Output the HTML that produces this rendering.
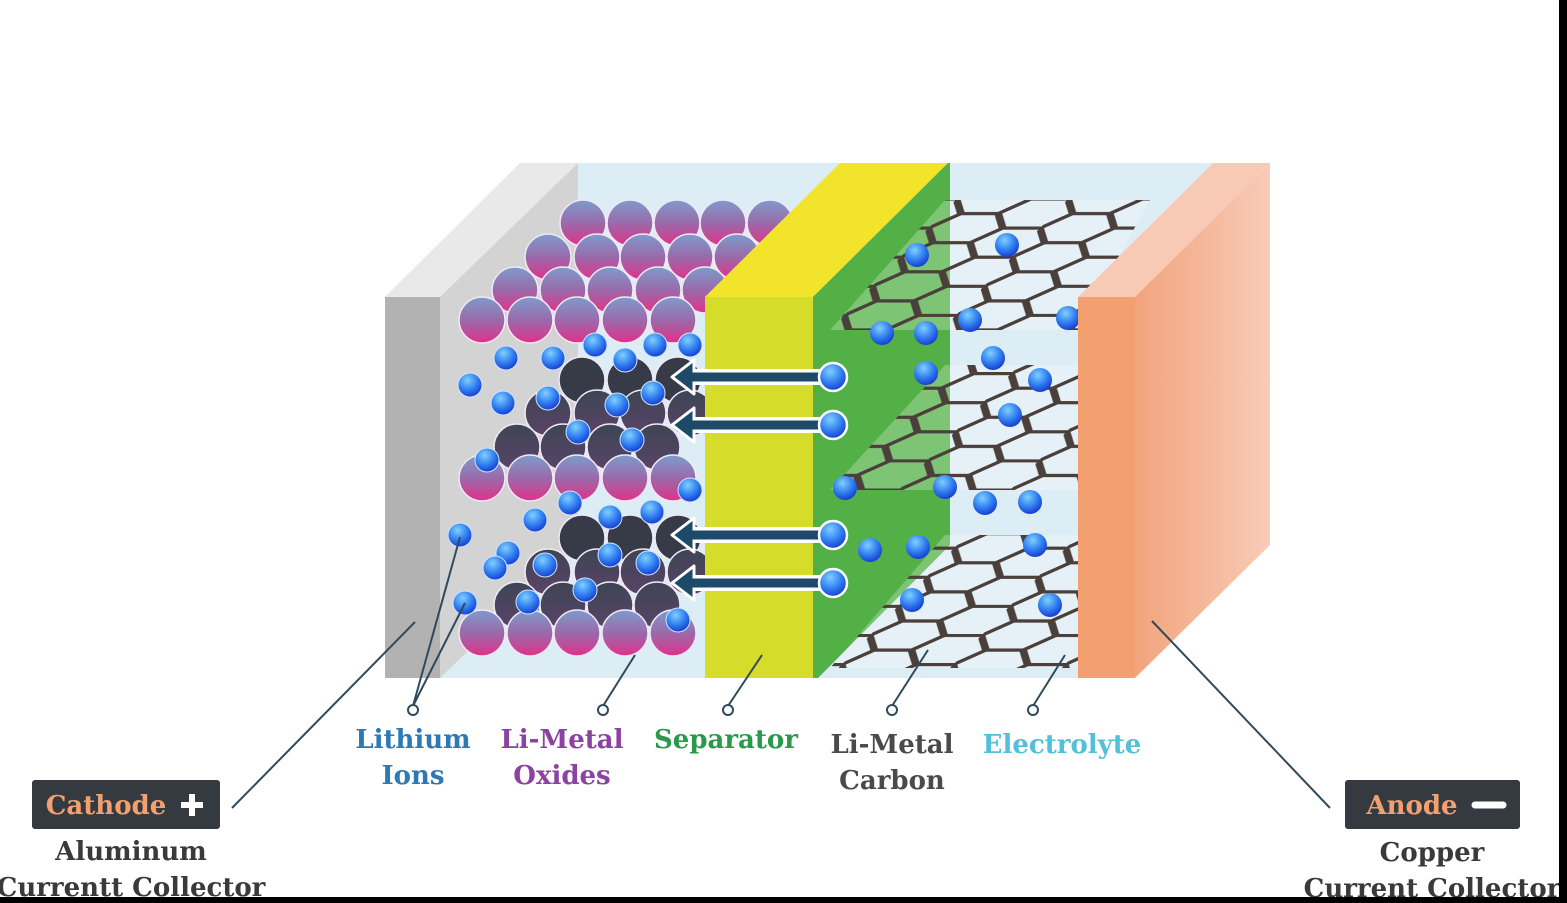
<!DOCTYPE html>
<html><head><meta charset="utf-8"><style>
html,body{margin:0;padding:0;background:#fff}
svg{display:block}
.t{font-family:"DejaVu Serif","Liberation Serif",serif;font-weight:bold;font-size:26px;text-anchor:middle}
</style></head><body>
<svg width="1567" height="903" viewBox="0 0 1567 903" xmlns="http://www.w3.org/2000/svg">
<defs>
<linearGradient id="pk" x1="0" y1="0" x2="0" y2="1"><stop offset="0" stop-color="#7d9ccc"/><stop offset="0.5" stop-color="#9a6aaa"/><stop offset="1" stop-color="#e2308a"/></linearGradient>
<linearGradient id="dk" x1="0" y1="0" x2="0" y2="1"><stop offset="0" stop-color="#3d4554"/><stop offset="1" stop-color="#5a4468"/></linearGradient>
<radialGradient id="ion" cx="0.4" cy="0.3" r="0.7"><stop offset="0" stop-color="#7fd0ff"/><stop offset="0.6" stop-color="#2f7cf0"/><stop offset="1" stop-color="#1a3fd0"/></radialGradient>
<linearGradient id="an" x1="0" y1="0" x2="1" y2="0"><stop offset="0" stop-color="#f2a47c"/><stop offset="1" stop-color="#f8cbb8"/></linearGradient>
<pattern id="hex" width="72" height="41.57" patternUnits="userSpaceOnUse" patternTransform="translate(830,330) skewX(-44) scale(1.55,0.7)">
<path d="M0,20.78 L12,0 L36,0 L48,20.78 L36,41.57 L12,41.57 Z M48,20.78 L72,20.78" fill="none" stroke="#4a3f3a" stroke-width="4.5"/>
</pattern>
<clipPath id="cl"><polygon points="440,678 440,150 853,150 705,297 705,678"/></clipPath>
<g id="i"><circle r="12" fill="url(#ion)"/></g>
</defs>
<rect width="1567" height="903" fill="#fff"/>
<polygon points="440,297 578,163 1213,163 1078,297" fill="#dcedf5"/>
<rect x="440" y="297" width="638" height="381" fill="#dcedf5"/>
<polygon points="385,297 440,297 578,163 520,163" fill="#e9e9e9"/>
<polygon points="440,297 578,163 578,545 440,678" fill="#d3d3d3"/>
<rect x="385" y="297" width="55" height="381" fill="#b2b2b2"/>
<g clip-path="url(#cl)" stroke="#f0e8f4" stroke-width="1.5">
<g fill="url(#pk)">
<circle cx="583" cy="223" r="23"/><circle cx="630" cy="223" r="23"/><circle cx="677" cy="223" r="23"/><circle cx="723" cy="223" r="23"/><circle cx="770" cy="223" r="23"/>
<circle cx="548" cy="257" r="23"/><circle cx="597" cy="257" r="23"/><circle cx="643" cy="257" r="23"/><circle cx="690" cy="257" r="23"/><circle cx="737" cy="257" r="23"/>
<circle cx="515" cy="290" r="23"/><circle cx="563" cy="290" r="23"/><circle cx="610" cy="290" r="23"/><circle cx="658" cy="290" r="23"/><circle cx="705" cy="290" r="23"/>
<circle cx="482" cy="320" r="23"/><circle cx="530" cy="320" r="23"/><circle cx="577" cy="320" r="23"/><circle cx="625" cy="320" r="23"/><circle cx="673" cy="320" r="23"/>
</g>
<g fill="#363b47"><circle cx="582" cy="380" r="23"/><circle cx="630" cy="380" r="23"/><circle cx="678" cy="380" r="23"/>
<circle cx="582" cy="538" r="23"/><circle cx="630" cy="538" r="23"/><circle cx="678" cy="538" r="23"/></g>
<g fill="url(#dk)"><circle cx="548" cy="413" r="23"/><circle cx="597" cy="413" r="23"/><circle cx="643" cy="413" r="23"/><circle cx="690" cy="413" r="23"/>
<circle cx="517" cy="447" r="23"/><circle cx="563" cy="447" r="23"/><circle cx="610" cy="447" r="23"/><circle cx="657" cy="447" r="23"/>
<circle cx="548" cy="572" r="23"/><circle cx="597" cy="572" r="23"/><circle cx="643" cy="572" r="23"/><circle cx="690" cy="572" r="23"/>
<circle cx="517" cy="605" r="23"/><circle cx="563" cy="605" r="23"/><circle cx="610" cy="605" r="23"/><circle cx="657" cy="605" r="23"/></g>
<g fill="url(#pk)">
<circle cx="482" cy="478" r="23"/><circle cx="530" cy="478" r="23"/><circle cx="577" cy="478" r="23"/><circle cx="625" cy="478" r="23"/><circle cx="673" cy="478" r="23"/>
<circle cx="482" cy="633" r="23"/><circle cx="530" cy="633" r="23"/><circle cx="577" cy="633" r="23"/><circle cx="625" cy="633" r="23"/><circle cx="673" cy="633" r="23"/>
</g>
</g>
<g stroke="#cfe6ff" stroke-width="1">
<use href="#i" x="470" y="385"/><use href="#i" x="503" y="403"/><use href="#i" x="506" y="358"/><use href="#i" x="553" y="358"/><use href="#i" x="595" y="345"/><use href="#i" x="625" y="360"/><use href="#i" x="655" y="345"/><use href="#i" x="690" y="345"/><use href="#i" x="548" y="398"/><use href="#i" x="617" y="405"/><use href="#i" x="653" y="393"/><use href="#i" x="578" y="432"/><use href="#i" x="632" y="440"/><use href="#i" x="487" y="460"/><use href="#i" x="570" y="503"/><use href="#i" x="535" y="520"/><use href="#i" x="610" y="517"/><use href="#i" x="652" y="512"/><use href="#i" x="690" y="490"/><use href="#i" x="460" y="535"/><use href="#i" x="508" y="553"/><use href="#i" x="495" y="568"/><use href="#i" x="545" y="565"/><use href="#i" x="610" y="555"/><use href="#i" x="648" y="563"/><use href="#i" x="585" y="590"/><use href="#i" x="528" y="602"/><use href="#i" x="465" y="603"/><use href="#i" x="678" y="620"/>
</g>
<polygon points="705,297 813,297 948,163 840,163" fill="#f2e42a"/>
<rect x="705" y="297" width="108" height="381" fill="#d6dc2a"/>
<polygon points="813,297 948,163 950,163 950,545 818,678 813,678" fill="#52b046"/>
<g fill="url(#hex)">
<polygon points="830,330 1078,330 1150,200 945,200" fill="#ffffff" fill-opacity="0.25"/>
<polygon points="830,330 1078,330 1150,200 945,200"/>
<polygon points="830,490 1078,490 1078,365 945,365" fill="#ffffff" fill-opacity="0.25"/>
<polygon points="830,490 1078,490 1078,365 945,365"/>
<polygon points="830,668 1078,668 1078,535 945,535" fill="#ffffff" fill-opacity="0.25"/>
<polygon points="830,668 1078,668 1078,535 945,535"/>
</g>
<g>
<use href="#i" x="917" y="255"/><use href="#i" x="1007" y="245"/><use href="#i" x="882" y="333"/><use href="#i" x="926" y="333"/><use href="#i" x="970" y="320"/><use href="#i" x="1068" y="318"/><use href="#i" x="993" y="358"/><use href="#i" x="926" y="373"/><use href="#i" x="1040" y="380"/><use href="#i" x="1010" y="415"/><use href="#i" x="845" y="488"/><use href="#i" x="945" y="487"/><use href="#i" x="985" y="503"/><use href="#i" x="1030" y="502"/><use href="#i" x="870" y="550"/><use href="#i" x="918" y="547"/><use href="#i" x="1035" y="545"/><use href="#i" x="912" y="600"/><use href="#i" x="1050" y="605"/>
</g>
<g>
<g id="ar">
<path d="M830,377 L690,377" stroke="#fff" stroke-width="16"/>
<path d="M672,377 L694,360 L694,394 Z" fill="#1e4a6a" stroke="#fff" stroke-width="3" stroke-linejoin="round"/>
<path d="M830,377 L690,377" stroke="#1e4a6a" stroke-width="9"/>
<circle cx="833" cy="377" r="14" fill="url(#ion)" stroke="#fff" stroke-width="2.5"/>
</g>
<use href="#ar" y="48"/><use href="#ar" y="158"/><use href="#ar" y="206"/>
</g>
<polygon points="1078,297 1135,297 1270,163 1213,163" fill="#f8c9b4"/>
<polygon points="1135,297 1270,163 1270,545 1135,678" fill="url(#an)"/>
<rect x="1078" y="297" width="57" height="381" fill="#f2a070"/>
<g stroke="#2f4a5c" stroke-width="2" fill="#fff">
<line x1="232" y1="808" x2="415" y2="622"/>
<line x1="413" y1="706" x2="460" y2="537"/><line x1="413" y1="706" x2="465" y2="603"/>
<line x1="603" y1="706" x2="635" y2="655"/>
<line x1="728" y1="706" x2="762" y2="655"/>
<line x1="892" y1="706" x2="928" y2="650"/>
<line x1="1033" y1="706" x2="1065" y2="655"/>
<line x1="1330" y1="808" x2="1152" y2="621"/>
<circle cx="413" cy="710" r="5"/><circle cx="603" cy="710" r="5"/><circle cx="728" cy="710" r="5"/><circle cx="892" cy="710" r="5"/><circle cx="1033" cy="710" r="5"/>
</g>
<text class="t" x="413" y="748" fill="#2b7ab6">Lithium</text>
<text class="t" x="413" y="784" fill="#2b7ab6">Ions</text>
<text class="t" x="562" y="748" fill="#8b42a0">Li-Metal</text>
<text class="t" x="562" y="784" fill="#8b42a0">Oxides</text>
<text class="t" x="726" y="748" fill="#2a9a4a">Separator</text>
<text class="t" x="892" y="753" fill="#4a4a4a">Li-Metal</text>
<text class="t" x="892" y="789" fill="#4a4a4a">Carbon</text>
<text class="t" x="1062" y="753" fill="#52c0d8">Electrolyte</text>
<rect x="32" y="780" width="188" height="49" rx="3" fill="#343a40"/>
<text class="t" x="106" y="814" fill="#f2a070">Cathode</text>
<path d="M181,805 h22 M192,794 v22" stroke="#fff" stroke-width="6"/>
<text class="t" x="131" y="860" fill="#3a3a3a">Aluminum</text>
<text class="t" x="131" y="896" fill="#3a3a3a">Currentt Collector</text>
<rect x="1345" y="780" width="175" height="49" rx="3" fill="#343a40"/>
<text class="t" x="1412" y="814" fill="#f2a070">Anode</text>
<path d="M1475,805 h28" stroke="#fff" stroke-width="7" stroke-linecap="round"/>
<text class="t" x="1432" y="861" fill="#3a3a3a">Copper</text>
<text class="t" x="1432" y="897" fill="#3a3a3a">Current Collector</text>
<rect x="0" y="897" width="1567" height="6" fill="#000"/>
<rect x="1559" y="0" width="8" height="903" fill="#000"/>
</svg>
</body></html>
